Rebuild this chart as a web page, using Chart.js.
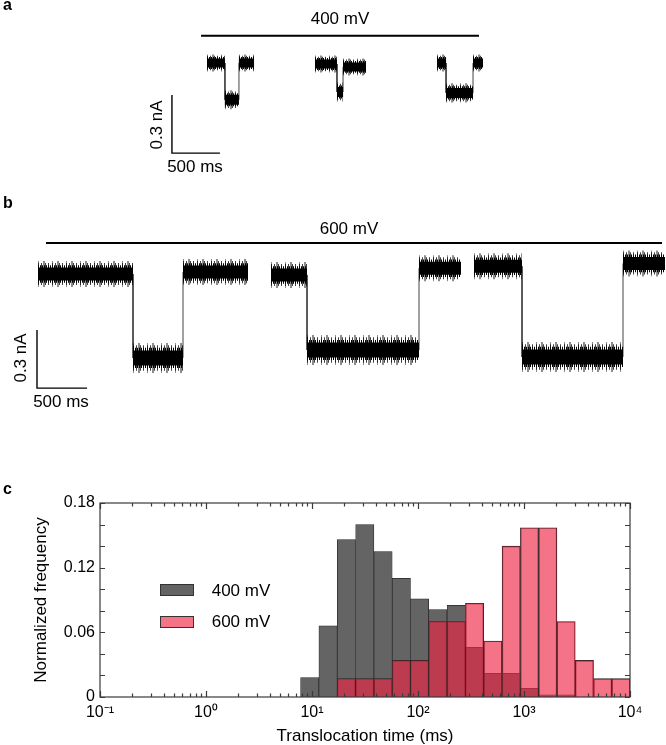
<!DOCTYPE html>
<html>
<head>
<meta charset="utf-8">
<script src="https://cdn.jsdelivr.net/npm/chart.js@4.4.1/dist/chart.umd.min.js"></script>
<style>
  body { margin: 0; background: #fff; }
  #fig { position: relative; width: 666px; height: 745px; overflow: hidden;
         font-family: "Liberation Sans", Arial, sans-serif; color: #000; }
  canvas { position: absolute; left: 0; }
  .t { position: absolute; font-size: 17px; line-height: 17px; white-space: nowrap; transform: translate(-50%, -50%); }
  .rot { transform: translate(-50%, -50%) rotate(-90deg); }
  .lbl { position: absolute; font-size: 16px; line-height: 17px; font-weight: bold; }
  .box { position: absolute; width: 32px; height: 10px; border: 1px solid #333; }
</style>
</head>
<body>
<div id="fig">
  <canvas id="ca" width="666" height="190" style="top:0"></canvas>
  <canvas id="cb" width="666" height="230" style="top:190px"></canvas>
  <canvas id="cc" width="666" height="265" style="top:480px"></canvas>

  <div class="lbl" style="left:3px; top:-4px">a</div>
  <div class="t" style="left:340px; top:18px">400 mV</div>
  <div class="t rot" style="left:156px; top:125px">0.3 nA</div>
  <div class="t" style="left:195px; top:166px">500 ms</div>

  <div class="lbl" style="left:3px; top:194px">b</div>
  <div class="t" style="left:349px; top:228px">600 mV</div>
  <div class="t rot" style="left:20px; top:358px">0.3 nA</div>
  <div class="t" style="left:61px; top:401px">500 ms</div>

  <div class="lbl" style="left:3px; top:480px">c</div>
  <div class="box" style="left:160px; top:584px; background:#646464"></div>
  <div class="t" style="left:241px; top:590px">400 mV</div>
  <div class="box" style="left:160px; top:616px; background:rgba(240,38,69,0.645)"></div>
  <div class="t" style="left:241px; top:621px">600 mV</div>
</div>

<script>
// ---- panel a (400 mV): event time points in ms [open start, drop, rise, open end]
const eventsA_t = [[0, 187, 333, 490], [1125, 1354, 1417, 1656], [2396, 2490, 2771, 2875]];
const eventsA_open = [[0, 0], [-0.005, -0.02], [0, 0]];   // nA, before / after
const eventsA_block = [-0.19, -0.15, -0.155];               // nA
const barA_volt = [-62, 2833, 0.141];                        // x0, x1, y
const scaleA = [-365, -0.466, 500, 0.3];                     // corner x, corner y, 500 ms, 0.3 nA

// ---- panel b (600 mV)
const eventsB_t = [[0, 950, 1450, 2100], [2330, 2690, 3810, 4230], [4360, 4840, 5850, 6270]];
const eventsB_open = [[0, 0.01], [-0.005, 0.03], [0.04, 0.055]];
const eventsB_block = [-0.434, -0.393, -0.429];
const barB_volt = [80, 6240, 0.16];
const scaleB = [-10, -0.59, 500, 0.3];

// ---- panel c histogram
const binEdges = [7.8, 11.6, 17.3, 25.8, 38.4, 57.1, 85.0, 126, 188, 280, 417, 621, 924, 1375, 2046, 3045, 4532, 6745, 10000];
const freq400 = [0.018, 0.066, 0.146, 0.160, 0.135, 0.110, 0.091, 0.081, 0.085, 0.046, 0.022, 0.022, 0.008, 0.002, 0.002, 0, 0, 0];
const freq600 = [0, 0, 0.017, 0.017, 0.017, 0.034, 0.034, 0.070, 0.070, 0.087, 0.052, 0.140, 0.157, 0.157, 0.070, 0.034, 0.017, 0.017];
const yTicks = [0, 0.06, 0.12, 0.18];

const FONT = '"Liberation Sans", Arial, sans-serif';
Chart.defaults.font.family = FONT;
Chart.defaults.color = '#000';

// hatch layers that give the noisy look around each current level
const NOISE = [
    {k: 0.35, dash: [1, 1], color: '#000'},
    {k: 0.7, dash: [1, 2, 1, 3], color: 'rgba(0,0,0,0.75)'},
    {k: 1.0, dash: [1, 4, 2, 7], color: 'rgba(0,0,0,0.45)'}
];

/**
 * Build the datasets for one current trace panel
 */
function traceDatasets(times, opens, blocks, volt, bar, core, spread) {
    const openBand = [], blockBand = [], steps = [];
    times.forEach((t, i) => {
        const o = opens[i], b = blocks[i];
        openBand.push({x: t[0], y: o[0]}, {x: t[1], y: o[0]}, {x: t[1], y: null},
                      {x: t[2], y: o[1]}, {x: t[3], y: o[1]}, {x: t[3], y: null});
        blockBand.push({x: t[1], y: b}, {x: t[2], y: b}, {x: t[2], y: null});
        steps.push({x: t[0], y: o[0]}, {x: t[1], y: o[0]}, {x: t[1], y: b}, {x: t[2], y: b},
                   {x: t[2], y: o[1]}, {x: t[3], y: o[1]}, {x: t[3], y: null});
    });
    const base = {pointRadius: 0, spanGaps: false, fill: false, borderCapStyle: 'butt'};
    const sets = [
        {...base, data: [{x: volt[0], y: volt[2]}, {x: volt[1], y: volt[2]}], borderColor: '#000', borderWidth: 2, order: 0},
        {...base, data: [{x: bar[0], y: bar[1] + bar[3]}, {x: bar[0], y: bar[1]}, {x: bar[0] + bar[2], y: bar[1]}],
            borderColor: '#000', borderWidth: 1.4, order: 0},
        {...base, data: openBand, borderColor: '#000', borderWidth: core[0], order: 1},
        {...base, data: blockBand, borderColor: '#000', borderWidth: core[1], order: 1}
    ];
    NOISE.forEach((n, j) => {
        sets.push({...base, data: openBand, borderColor: n.color, borderDash: n.dash,
            borderWidth: core[0] + n.k * spread, order: 2 + j});
        sets.push({...base, data: blockBand, borderColor: n.color, borderDash: n.dash,
            borderWidth: core[1] + n.k * spread * 1.15, order: 2 + j});
    });
    sets.push({...base, data: steps, borderColor: '#444', borderWidth: 1, order: 9});
    return sets;
}

function traceChart(id, datasets, xr, yr) {
    return new Chart(document.getElementById(id), {
        type: 'line',
        data: {datasets},
        options: {
            responsive: false, animation: false, events: [],
            layout: {padding: 0},
            plugins: {legend: {display: false}, tooltip: {enabled: false}},
            scales: {
                x: {type: 'linear', display: false, min: xr[0], max: xr[1]},
                y: {type: 'linear', display: false, min: yr[0], max: yr[1]}
            }
        }
    });
}

traceChart('ca', traceDatasets(eventsA_t, eventsA_open, eventsA_block, barA_volt, scaleA, [9, 10], 8),
    [-2156, 4781], [-0.657, 0.326]);
traceChart('cb', traceDatasets(eventsB_t, eventsB_open, eventsB_block, barB_volt, scaleB, [13, 15], 13),
    [-380, 6280], [-0.755, 0.4345]);

/**
 * Histogram: frame + inward ticks on all four sides
 */
const frameTicks = {
    id: 'frameTicks',
    afterDatasetsDraw(chart) {
        const {ctx, chartArea: a, scales: {x, y}} = chart;
        ctx.save();
        ctx.strokeStyle = '#3a3a3a';
        ctx.lineWidth = 1.2;
        ctx.strokeRect(a.left, a.top, a.right - a.left, a.bottom - a.top);
        ctx.beginPath();
        for (let i = 0; i <= 9; i++) {
            const yy = Math.round(y.getPixelForValue(i * 0.02)) + 0.5;
            ctx.moveTo(a.left, yy); ctx.lineTo(a.left + 5, yy);
            ctx.moveTo(a.right, yy); ctx.lineTo(a.right - 5, yy);
        }
        for (let e = -1; e <= 4; e++) {
            for (let k = 1; k <= (e === 4 ? 1 : 9); k++) {
                const xx = Math.round(x.getPixelForValue(k * Math.pow(10, e))) + 0.5;
                const len = k === 1 ? 6 : 3.5;
                ctx.moveTo(xx, a.bottom); ctx.lineTo(xx, a.bottom - len);
                ctx.moveTo(xx, a.top); ctx.lineTo(xx, a.top + len);
            }
        }
        ctx.stroke();
        ctx.restore();
    }
};

const SUP = {'-': '⁻', '0': '⁰', '1': '¹', '2': '²', '3': '³', '4': '⁴'};
const centers = binEdges.slice(0, -1).map((e, i) => Math.sqrt(e * binEdges[i + 1]));
const barBase = {borderWidth: 0.7, borderColor: '#262626', grouped: false, barPercentage: 1, categoryPercentage: 1};

new Chart(document.getElementById('cc'), {
    type: 'bar',
    data: {
        datasets: [
            {...barBase, label: '400 mV', order: 1, backgroundColor: '#646464',
                data: centers.map((c, i) => ({x: c, y: freq400[i] > 0 ? freq400[i] : null}))},
            {...barBase, label: '600 mV', order: 0, backgroundColor: 'rgba(240,38,69,0.645)',
                data: centers.map((c, i) => ({x: c, y: freq600[i] > 0 ? freq600[i] : null}))}
        ]
    },
    options: {
        responsive: false, animation: false, events: [],
        layout: {padding: {left: 0, right: 36, top: 23, bottom: 0}},
        plugins: {legend: {display: false}, tooltip: {enabled: false}},
        scales: {
            x: {
                type: 'logarithmic', min: 0.1, max: 10000,
                grid: {display: false, drawTicks: false}, border: {display: false},
                afterBuildTicks: axis => { axis.ticks = [-1, 0, 1, 2, 3, 4].map(e => ({value: Math.pow(10, e)})); },
                ticks: {
                    autoSkip: false, maxRotation: 0, padding: 6, font: {size: 16},
                    callback: v => '10' + String(Math.round(Math.log10(v))).split('').map(c => SUP[c]).join('')
                },
                title: {display: true, text: 'Translocation time (ms)', font: {size: 17, lineHeight: 1}, padding: {top: 0, bottom: 0}},
                afterFit: s => { s.height = 48; }
            },
            y: {
                min: 0, max: 0.18,
                grid: {display: false, drawTicks: false}, border: {display: false},
                ticks: {
                    stepSize: 0.02, autoSkip: false, padding: 5, font: {size: 16},
                    callback: v => {
                        const hit = yTicks.find(t => Math.abs(t - v) < 1e-6);
                        return hit === undefined ? '' : (hit === 0 ? '0' : hit.toFixed(2));
                    }
                },
                title: {display: true, text: 'Normalized frequency', font: {size: 17, lineHeight: 1}, padding: {top: 33, bottom: 0}},
                afterFit: s => { s.width = 100; }
            }
        }
    },
    plugins: [frameTicks]
});
</script>
</body>
</html>
